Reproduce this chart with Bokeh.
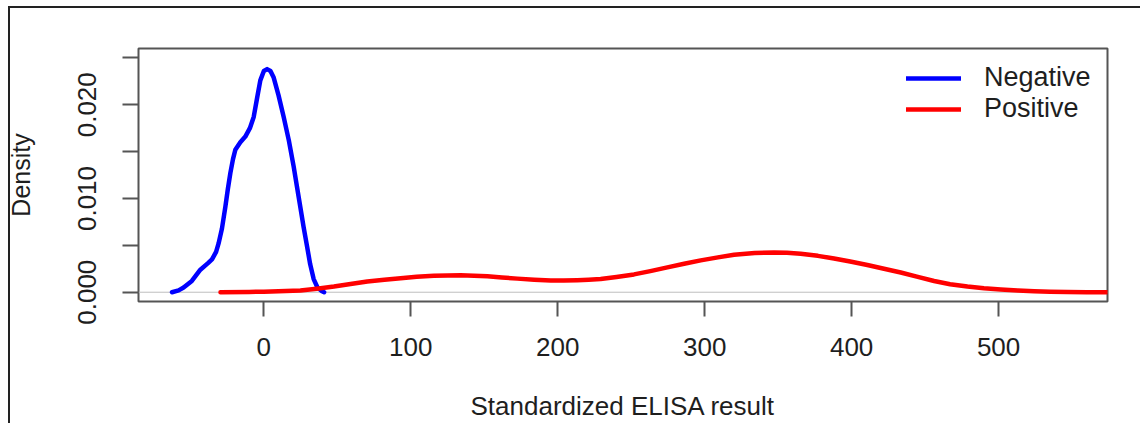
from bokeh.plotting import figure
from bokeh.models import FixedTicker, NumeralTickFormatter, Span, Legend, LegendItem, Range1d
from bokeh.embed import file_html
from bokeh.resources import INLINE

# Negative samples density
neg_x = [-62.5, -58, -54.6, -49, -43.2, -38, -35.3, -32.5, -30.8, -28.5, -26.2, -24.5,
         -22.8, -21, -19.4, -16, -12.6, -9.5, -6.9, -4.5, -2.4, 0, 2.2, 4.5, 6.7, 10,
         13.5, 17, 20.3, 22.5, 24.8, 27, 29.4, 31.5, 33.9, 36.5, 39.6, 41]
neg_y = [0.0000, 0.0002, 0.0005, 0.0012, 0.0024, 0.0031, 0.0035, 0.0043, 0.0052, 0.0068,
         0.0091, 0.0110, 0.0127, 0.0142, 0.0152, 0.0160, 0.0166, 0.0175, 0.0187, 0.0208,
         0.0226, 0.0236, 0.0238, 0.0236, 0.0229, 0.0210, 0.0187, 0.0162, 0.0134, 0.0113,
         0.0091, 0.0070, 0.0049, 0.0030, 0.0014, 0.0005, 0.0001, 0.0000]

# Positive samples density
pos_x = [-29.5, -10, 0, 10, 24.9, 36, 47.7, 59, 70.4, 82, 93.1, 104, 115.7, 125, 133.9,
         143, 152.1, 162, 172.5, 184, 195.2, 204, 213.3, 221, 229.2, 240, 251.9, 263,
         274.6, 286, 297.3, 309, 320, 334, 347.2, 356, 365.3, 377, 388, 399, 410.7, 422,
         433.4, 445, 456.1, 467, 478.8, 490, 501.5, 513, 524.2, 535, 546.8, 560, 575, 590]
pos_y = [0.00000, 0.00003, 0.00006, 0.00010, 0.00018, 0.00038, 0.00060, 0.00088, 0.00115,
         0.00134, 0.00150, 0.00164, 0.00175, 0.00179, 0.00180, 0.00177, 0.00170, 0.00158,
         0.00145, 0.00133, 0.00125, 0.00124, 0.00127, 0.00132, 0.00140, 0.00162, 0.00190,
         0.00225, 0.00265, 0.00303, 0.00340, 0.00372, 0.00400, 0.00418, 0.00425, 0.00422,
         0.00411, 0.00388, 0.00360, 0.00327, 0.00290, 0.00250, 0.00210, 0.00163, 0.00120,
         0.00085, 0.00060, 0.00042, 0.00029, 0.00018, 0.00010, 0.00006, 0.00003, 0.00001,
         0.00000, 0.00000]

x_ticks = [0, 100, 200, 300, 400, 500]
y_ticks = [0.0, 0.010, 0.020]
y_minor = [0.005, 0.015, 0.025]
labels = ["Negative", "Positive"]
colors = ["#0000ff", "#ff0000"]

FONT = "Liberation Sans"
TXT = "#1e1e1e"
AX = "#555555"

p = figure(width=1140, height=423,
           x_range=Range1d(-85.3, 574.1), y_range=Range1d(-0.00099, 0.0260),
           output_backend="svg", toolbar_location=None,
           min_border_left=138, min_border_right=33, min_border_top=48, min_border_bottom=121)
# outer frame of the original image (top and left edges only visible)
p.styles = {"background": "linear-gradient(#222,#222) 8px 6px / 2px 100% no-repeat, "
                          "linear-gradient(#222,#222) 8px 6px / 100% 2px no-repeat, white"}

p.xgrid.visible = False
p.ygrid.visible = False
p.outline_line_color = AX
p.outline_line_width = 2
p.background_fill_color = "white"
p.border_fill_color = None

zero = Span(location=0, dimension="width", line_color="#bebebe", line_width=1, level="underlay")
p.add_layout(zero)

r_neg = p.line(neg_x, neg_y, line_color=colors[0], line_width=4.5, line_join="round", line_cap="round")
r_pos = p.line(pos_x, pos_y, line_color=colors[1], line_width=4.5, line_join="round", line_cap="round")

# x axis
xa = p.xaxis[0]
xa.ticker = FixedTicker(ticks=x_ticks)
xa.axis_line_color = None
xa.major_tick_in = 0
xa.major_tick_out = 15
xa.major_tick_line_color = AX
xa.major_tick_line_width = 2
xa.minor_tick_line_color = None
xa.major_label_text_font = FONT
xa.major_label_text_font_size = "26px"
xa.major_label_text_color = TXT
xa.major_label_standoff = 21
xa.axis_label = "Standardized ELISA result"
xa.axis_label_text_font = FONT
xa.axis_label_text_font_size = "26px"
xa.axis_label_text_font_style = "normal"
xa.axis_label_text_color = TXT
xa.axis_label_standoff = 32

# y axis
ya = p.yaxis[0]
ya.ticker = FixedTicker(ticks=y_ticks, minor_ticks=y_minor)
ya.formatter = NumeralTickFormatter(format="0.000")
ya.axis_line_color = None
ya.major_tick_in = 0
ya.major_tick_out = 16
ya.minor_tick_in = 0
ya.minor_tick_out = 16
ya.major_tick_line_color = AX
ya.minor_tick_line_color = AX
ya.major_tick_line_width = 2
ya.minor_tick_line_width = 2
ya.major_label_orientation = "parallel"
ya.major_label_text_font = FONT
ya.major_label_text_font_size = "26px"
ya.major_label_text_color = TXT
ya.major_label_standoff = 26
ya.axis_label = "Density"
ya.axis_label_text_font = FONT
ya.axis_label_text_font_size = "25px"
ya.axis_label_text_font_style = "normal"
ya.axis_label_text_color = TXT
ya.axis_label_standoff = 41

legend = Legend(items=[LegendItem(label=labels[0], renderers=[r_neg]),
                       LegendItem(label=labels[1], renderers=[r_pos])],
                location=(768, 177), border_line_color=None, background_fill_alpha=0,
                padding=0, spacing=0, margin=0, glyph_width=55, glyph_height=30,
                label_height=30, label_standoff=23,
                label_text_font=FONT, label_text_font_size="27px", label_text_color=TXT)
p.add_layout(legend, "center")

open("out.html", "w").write(file_html(p, INLINE))
